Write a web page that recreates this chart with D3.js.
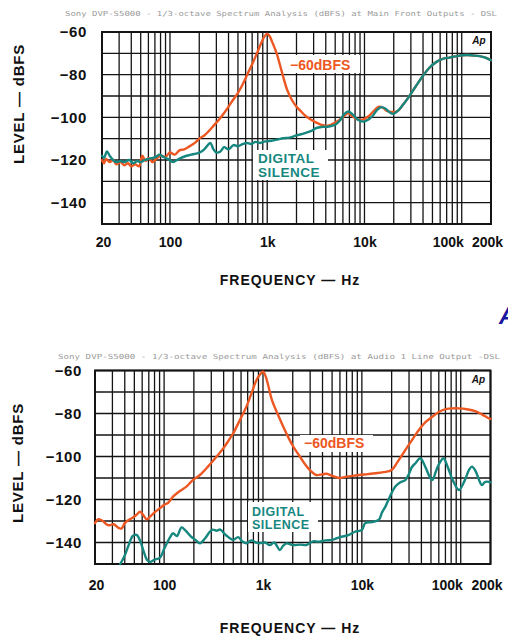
<!DOCTYPE html>
<html><head><meta charset="utf-8">
<script src="https://cdn.jsdelivr.net/npm/d3@7"></script>
<style>
html,body{margin:0;padding:0;background:#fff;}
svg{display:block;}
</style></head>
<body>
<svg id="c" width="508" height="636"></svg>
<script>
// ---------------- DATA ----------------
const yTicks = [-60, -80, -100, -120, -140];
const xTickValues = [20, 100, 1000, 10000, 100000, 200000];
const xTickLabels = ["20", "100", "1k", "10k", "100k", "200k"];

const topTitle = "Sony DVP-S5000 - 1/3-octave Spectrum Analysis (dBFS) at Main Front Outputs - DSL";
const bottomTitle = "Sony DVP-S5000 - 1/3-octave Spectrum Analysis (dBFS) at Audio 1 Line Output -DSL";

// Top chart: -60 dBFS
const topOrangeFreq = [20,21,22,24,26,28,31,34,37,40,44,48,52,56,60,66,72,80,90,100,112,125,140,160,180,200,225,250,280,320,360,400,450,500,560,630,710,800,870,940,1000,1060,1120,1250,1400,1600,1800,2000,2200,2500,2800,3200,3600,4000,4500,5000,5600,6300,6800,7500,8500,9700,11000,12500,14000,15500,17000,19000,22000,25000,28000,32000,36000,40000,46000,55000,65000,75000,90000,112000,130000,153000,175000,200000];
const topOrangeDb = [-120,-121.5,-119.5,-121,-120,-122,-121,-122.5,-121.5,-123,-122,-123,-118,-120.5,-119,-121,-119.5,-118,-118.5,-116.5,-117.5,-115.5,-115,-113.5,-112,-110,-108.5,-106.5,-104,-101,-98,-95,-91.5,-88.5,-84.5,-79.5,-74.5,-69,-65,-62,-60.8,-62,-64.5,-70,-78,-87,-92,-95,-97,-99.5,-101,-102.5,-103.5,-104,-103.5,-102.5,-101,-99,-98,-99.5,-101,-101,-99.5,-97,-95,-95.5,-97,-97.5,-97,-94,-91,-87,-83.5,-80.5,-77,-74,-72.5,-72,-71.3,-70.8,-71,-71.3,-72,-73.2];

// Top chart: digital silence
const topTealFreq = [20,21,22.5,24,26,28,31,34,38,42,46,50,55,60,66,72,78,85,95,108,118,130,148,165,185,203,225,245,260,280,300,330,360,400,450,500,560,620,680,760,850,950,1100,1300,1450,1700,2000,2400,2800,3200,3700,4300,5000,5600,6200,6800,7500,8500,9700,11000,12300,13500,15000,16500,18000,19800,22000,25000,28000,32000,36000,40000,46000,55000,65000,75000,90000,112000,130000,153000,175000,194000,200000];
const topTealDb = [-118,-119,-116,-118,-120,-121,-120.5,-121,-120,-121.5,-120.5,-121,-120,-119.5,-119,-118.5,-117.5,-118.5,-119.5,-121,-120,-119,-118,-117.5,-117,-116.5,-115,-113,-112,-115,-116.5,-116,-114,-115,-113,-113.5,-112.5,-112,-112.5,-111.5,-112,-111.3,-111,-110.3,-109.8,-109.5,-108.5,-107.5,-106.5,-105,-104.5,-104.3,-103.5,-101.5,-98.5,-97.3,-98.5,-101,-102,-101,-99,-96.5,-95.2,-96,-97.5,-98.4,-97,-94,-91,-87,-83.5,-80.5,-77,-74,-72.5,-72,-71.3,-70.8,-71,-71.3,-72,-73,-73.2];

// Bottom chart: -60 dBFS
const botOrangeFreq = [20,21.6,24,26,28,31,34,37,40,43.6,48,53,57,61,66.8,72,80,91,100,110,123,140,168,195,230,280,340,400,450,500,570,630,680,760,860,930,1000,1060,1130,1230,1400,1600,1800,2000,2360,2700,3000,3450,4000,4400,5000,5900,6800,8000,9400,11500,13800,16500,20000,23000,27500,32000,37700,44000,51500,60000,70600,83000,96000,115000,142000,165000,191000,200000];
const botOrangeDb = [-131,-129.2,-130,-131.5,-132,-131.5,-133,-133.5,-131,-129.5,-128.5,-127,-125.7,-127,-129.2,-128,-126,-124,-122.5,-121.5,-118.7,-116.5,-114,-111,-108.6,-104.5,-100,-96,-92.5,-89.2,-84,-80,-76.8,-71,-64.4,-62,-60.5,-62.5,-67,-73.7,-80,-86,-91,-95,-100,-104,-106.5,-108.6,-108.3,-108,-109,-110,-109.5,-109,-108.6,-108.2,-107.8,-107.3,-106.3,-102.5,-97,-92.5,-87.7,-84,-81.5,-79.3,-78,-77.6,-77.6,-78,-79,-80.5,-82.2,-82.5];

// Bottom chart: digital silence
const botTealFreq = [36,40,44,48,52.6,57,62,67,72,80,91,100,107,115,123,135,150,165,185,210,230,260,290,310,340,370,420,500,560,620,680,760,850,920,1050,1170,1300,1480,1600,1730,2000,2400,2740,3200,3700,4300,5000,6000,7400,8500,10000,10800,12500,14800,16000,17300,19500,21800,24500,27500,30000,32000,35000,39000,44000,48000,51500,57000,62000,67000,74000,83000,96000,110000,122000,130000,142000,155000,163000,175000,184000,200000];
const botTealDb = [-150,-146,-141,-137,-136.5,-139,-144,-148,-149,-148,-147,-143,-140.2,-137.5,-135.7,-137,-133,-134.5,-137,-139,-140.4,-138,-135,-134,-134.5,-134,-136.5,-138.8,-137.5,-139.5,-140.4,-139,-140,-140.4,-140,-141.2,-140,-143.5,-141.5,-140.4,-141.2,-141,-141.2,-139.5,-139.6,-139,-138.8,-137.5,-136.5,-135,-134.2,-131,-130.5,-129.5,-126,-123.3,-118,-114,-112,-111,-108,-105,-103,-100.8,-105,-109,-111,-106,-102.5,-100.8,-105,-111,-115.6,-111,-106,-104.7,-107,-111.5,-113.3,-112,-111.7,-112];

// ---------------- DRAWING ----------------
const svg = d3.select("#c");
const ORANGE = "#ec5722";
const TEAL = "#16877f";
const FONT = "'Liberation Sans', Arial, sans-serif";

function gridValues() {
  const v = [];
  for (let d = 10; d <= 100000; d *= 10)
    for (let m = 1; m <= 9; m++) { const f = m * d; if (f >= 20 && f <= 200000) v.push(f); }
  v.push(200000);
  return v;
}

function drawChart(cfg) {
  const g = svg.append("g");
  const x = d3.scaleLog().domain([20, 200000]).range([cfg.left, cfg.right]);
  const y = d3.scaleLinear().domain([-150, -60]).range([cfg.bottom, cfg.top]);

  // header
  g.append("text").attr("x", cfg.titleX).attr("y", cfg.titleY)
    .attr("textLength", cfg.titleW).attr("lengthAdjust", "spacingAndGlyphs")
    .attr("font-family", "'DejaVu Sans Mono', monospace").attr("font-size", 7)
    .attr("fill", "#9a9a9a").text(cfg.title);

  // grid
  const grid = g.append("g").attr("stroke", "#141414").attr("stroke-width", 1.3);
  grid.selectAll("line.v").data(gridValues()).join("line")
    .attr("x1", d => x(d)).attr("x2", d => x(d))
    .attr("y1", cfg.top).attr("y2", cfg.bottom);
  grid.selectAll("line.h").data(d3.range(-150, -59, 10)).join("line")
    .attr("x1", cfg.left).attr("x2", cfg.right)
    .attr("y1", d => y(d)).attr("y2", d => y(d));
  g.append("rect").attr("x", cfg.left).attr("y", cfg.top)
    .attr("width", cfg.right - cfg.left).attr("height", cfg.bottom - cfg.top)
    .attr("fill", "none").attr("stroke", "#141414").attr("stroke-width", 2);

  // Ap logo
  g.append("rect").attr("x", cfg.right - 22).attr("y", cfg.top + 3).attr("width", 19).attr("height", 11).attr("fill", "#fff");
  g.append("text").attr("x", cfg.right - 12).attr("y", cfg.top + 12).attr("text-anchor", "middle")
    .attr("font-family", FONT).attr("font-weight", "bold").attr("font-style", "italic")
    .attr("font-size", 10).attr("fill", "#111").text("Ap");

  // y axis labels
  const ya = d3.axisLeft(y).tickValues(yTicks).tickSize(0).tickPadding(0)
    .tickFormat(d => "\u2212" + Math.abs(d));
  const yg = g.append("g").attr("transform", `translate(${cfg.yLabelX},0)`).call(ya);
  yg.select(".domain").remove();
  yg.selectAll("text").attr("font-family", FONT).attr("font-size", 15).attr("font-weight", "bold")
    .attr("letter-spacing", 0.6).attr("fill", "#111");

  // x axis labels
  const xa = d3.axisBottom(x).tickValues(xTickValues).tickSize(0).tickPadding(0)
    .tickFormat((d, i) => xTickLabels[i]);
  const xg = g.append("g").attr("transform", `translate(0,${cfg.xLabelY})`).call(xa);
  xg.select(".domain").remove();
  xg.selectAll("text").attr("font-family", FONT).attr("font-size", 14).attr("font-weight", "bold")
    .attr("fill", "#111")
    .attr("dx", d => d === 100000 ? -14 : d === 200000 ? -4 : d === 20 ? 1 : 0);

  // axis titles
  g.append("text").attr("transform", `translate(${cfg.yTitleX},${cfg.yTitleY}) rotate(-90)`)
    .attr("text-anchor", "middle").attr("dominant-baseline", "central")
    .attr("font-family", FONT).attr("font-size", 15).attr("font-weight", "bold")
    .attr("letter-spacing", 0.8).attr("fill", "#111").text("LEVEL \u2014 dBFS");
  g.append("text").attr("x", cfg.xTitleX).attr("y", cfg.xTitleY)
    .attr("text-anchor", "middle").attr("dominant-baseline", "central")
    .attr("font-family", FONT).attr("font-size", 14).attr("font-weight", "bold")
    .attr("letter-spacing", 1).attr("fill", "#111").text("FREQUENCY \u2014 Hz");

  // annotations (white boxes)
  cfg.boxes.forEach(b => {
    g.append("rect").attr("x", b[0]).attr("y", b[1]).attr("width", b[2]).attr("height", b[3]).attr("fill", "#fff");
  });

  const line = d3.line().x(d => x(d[0])).y(d => y(d[1])).curve(d3.curveCatmullRom.alpha(0.5));
  const series = [
    { f: cfg.oF, v: cfg.oV, c: ORANGE },
    { f: cfg.tF, v: cfg.tV, c: TEAL }
  ];
  g.selectAll("path.s").data(series).join("path")
    .attr("d", s => line(s.f.map((f, i) => [f, s.v[i]])))
    .attr("fill", "none").attr("stroke", s => s.c).attr("stroke-width", 2.4)
    .attr("stroke-linejoin", "round").attr("stroke-linecap", "round");

  // labels
  g.append("text").attr("x", cfg.lab60[0]).attr("y", cfg.lab60[1])
    .attr("font-family", FONT).attr("font-size", 14).attr("font-weight", "bold")
    .attr("fill", ORANGE).attr("dominant-baseline", "central").text("\u221260dBFS");
  g.append("text").attr("x", cfg.labDS[0]).attr("y", cfg.labDS[1])
    .attr("font-family", FONT).attr("font-size", cfg.labDS[3]).attr("font-weight", "bold")
    .attr("fill", TEAL).attr("dominant-baseline", "central").attr("letter-spacing", 0.5).text("DIGITAL");
  g.append("text").attr("x", cfg.labDS[0]).attr("y", cfg.labDS[1] + cfg.labDS[2])
    .attr("font-family", FONT).attr("font-size", cfg.labDS[3]).attr("font-weight", "bold")
    .attr("fill", TEAL).attr("dominant-baseline", "central").attr("letter-spacing", 0.5).text("SILENCE");
}

drawChart({
  left: 102, right: 491, top: 32, bottom: 224,
  title: topTitle, titleX: 65, titleY: 16, titleW: 432,
  yLabelX: 87, xLabelY: 237,
  yTitleX: 18, yTitleY: 104, xTitleX: 290, xTitleY: 280,
  oF: topOrangeFreq, oV: topOrangeDb, tF: topTealFreq, tV: topTealDb,
  boxes: [[285, 55, 75, 18], [253, 150, 75, 30]],
  lab60: [290, 65], labDS: [258, 158, 14, 13.5]
});

drawChart({
  left: 95, right: 490.5, top: 370.5, bottom: 564,
  title: bottomTitle, titleX: 58, titleY: 359, titleW: 442,
  yLabelX: 82, xLabelY: 580,
  yTitleX: 17, yTitleY: 463, xTitleX: 290, xTitleY: 628,
  oF: botOrangeFreq, oV: botOrangeDb, tF: botTealFreq, tV: botTealDb,
  boxes: [[300, 435, 73, 17], [248, 502, 70, 30]],
  lab60: [304, 443], labDS: [252, 511.5, 13, 12.5]
});

// partial blue letter at right edge
svg.append("text").attr("x", 499).attr("y", 324)
  .attr("font-family", FONT).attr("font-weight", "bold").attr("font-style", "italic")
  .attr("font-size", 24).attr("fill", "#1a16a0").text("A");
</script>
</body></html>
